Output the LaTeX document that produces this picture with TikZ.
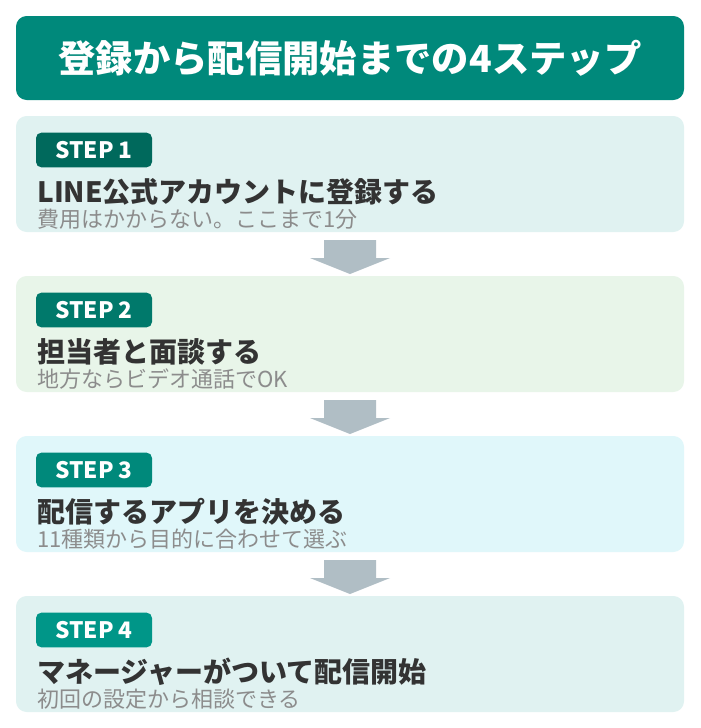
\documentclass[tikz,border=0pt]{standalone}
\usepackage{fontspec}
\setmainfont{Noto Sans CJK JP}
\begin{document}
\begin{tikzpicture}[x=0.75pt,y=-0.75pt,
  badge/.style={rounded corners=4pt,text=white,font=\bfseries\fontsize{17}{19}\selectfont,minimum width=87pt,minimum height=26pt,inner sep=0pt},
  head/.style={anchor=west,font=\bfseries\fontsize{21}{23}\selectfont,text=black!80,inner sep=0pt},
  sub/.style={anchor=west,font=\fontsize{16.5}{18}\selectfont,text=black!45,inner sep=0pt}]
\definecolor{titlec}{HTML}{00897B}
\definecolor{arrowc}{HTML}{B0BEC5}
\definecolor{b1}{HTML}{E0F2F1}\definecolor{b2}{HTML}{E8F5E9}\definecolor{b3}{HTML}{E0F7FA}\definecolor{b4}{HTML}{E0F2F1}
\definecolor{g1}{HTML}{00695C}\definecolor{g2}{HTML}{00796B}\definecolor{g3}{HTML}{00897B}\definecolor{g4}{HTML}{009688}
\useasboundingbox (0,0) rectangle (700,728);
\fill[white] (0,0) rectangle (700,728);
\fill[titlec,rounded corners=8pt] (16,16) rectangle (684,100);
\node[text=white,font=\bfseries\fontsize{28}{31}\selectfont] (title) at (350,58) {登録から配信開始までの4ステップ};
\foreach \i/\y/\h/\s in {1/116/LINE公式アカウントに登録する/費用はかからない。ここまで1分,
  2/276/担当者と面談する/地方ならビデオ通話でOK,
  3/436/配信するアプリを決める/11種類から目的に合わせて選ぶ,
  4/596/マネージャーがついて配信開始/初回の設定から相談できる}{
  \fill[b\i,rounded corners=8pt] (16,\y) rectangle (684,\y+116);
  \node[badge,fill=g\i] (badge\i) at (94,\y+34) {STEP \i};
  \node[head] (head\i) at (37,\y+76) {\h};
  \node[sub] (sub\i) at (37,\y+103) {\s};
}
\foreach \y in {240,400,560}{
  \fill[arrowc] (324,\y) -- (376,\y) -- (376,\y+18) -- (390,\y+18) -- (350,\y+34) -- (310,\y+18) -- (324,\y+18) -- cycle;
}
\end{tikzpicture}
\end{document}
